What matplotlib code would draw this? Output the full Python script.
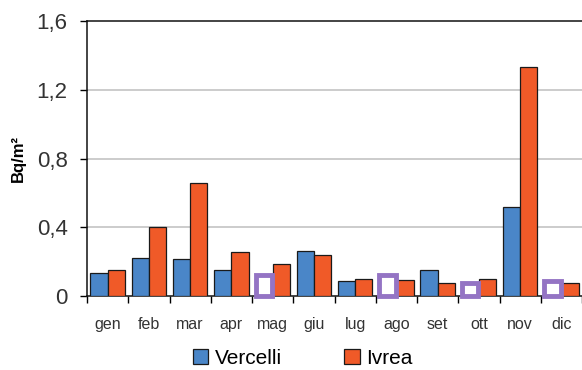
import numpy as np
import matplotlib.pyplot as plt
from matplotlib.ticker import FixedLocator

plt.rcParams['font.family'] = ['Liberation Sans', 'DejaVu Sans']

# monthly deposition values, Bq/m2
months = ['gen', 'feb', 'mar', 'apr', 'mag', 'giu', 'lug', 'ago', 'set', 'ott', 'nov', 'dic']
vercelli = [0.134, 0.22, 0.215, 0.15, np.nan, 0.26, 0.085, np.nan, 0.15, np.nan, 0.52, np.nan]
ivrea = [0.15, 0.40, 0.66, 0.255, 0.185, 0.24, 0.097, 0.093, 0.075, 0.097, 1.334, 0.075]
# Vercelli months below detection limit (hollow markers)
vercelli_dl = [np.nan, np.nan, np.nan, np.nan, 0.12, np.nan, np.nan, 0.12, np.nan, 0.075, np.nan, 0.085]
yticks = [0, 0.4, 0.8, 1.2, 1.6]
ytick_labels = ['0', '0,4', '0,8', '1,2', '1,6']

fig = plt.figure(figsize=(5.82, 3.70), dpi=100)
ax = fig.add_axes([0.1495, 0.2, 0.8505, 0.743])

x = np.arange(len(months))
w = 0.42
ax.bar(x - w / 2, vercelli, w, color='#4A86C8', edgecolor='#1a1a1a', linewidth=0.9, zorder=3)
ax.bar(x + w / 2, ivrea, w, color='#F05A28', edgecolor='#1a1a1a', linewidth=0.9, zorder=3)
ax.bar(x - w / 2, vercelli_dl, w * 0.95, color='white', edgecolor='#9474C4', linewidth=3.5, zorder=3,
       clip_on=False)

ax.set_xlim(-0.5, len(months) - 0.5)
ax.set_ylim(0, 1.6)
ax.set_yticks(yticks)
ax.set_yticklabels(ytick_labels, fontsize=16, color='#333333')
ax.tick_params(axis='y', length=5, width=1, pad=9)
ax.set_xticks(x)
ax.set_xticklabels(months, fontsize=11.5, color='#333333')
ax.tick_params(axis='x', which='major', length=0, pad=15)
ax.xaxis.set_minor_locator(FixedLocator(np.arange(-0.5, len(months), 1)))
ax.tick_params(axis='x', which='minor', length=5, width=1, direction='out')

for v in yticks[1:-1]:
    ax.axhline(v, color='#c4c4c4', linewidth=1.2, zorder=1)

ax.spines['right'].set_visible(False)
for s in ['left', 'bottom', 'top']:
    ax.spines[s].set_color('#111111')
    ax.spines[s].set_linewidth(1.1)

ax.set_ylabel('Bq/m²', fontsize=12, fontweight='bold', labelpad=8)

handles = [plt.Rectangle((0, 0), 1, 1, facecolor='#4A86C8', edgecolor='#1a1a1a', linewidth=0.9),
           plt.Rectangle((0, 0), 1, 1, facecolor='#F05A28', edgecolor='#1a1a1a', linewidth=0.9)]
fig.legend(handles, ['Vercelli', 'Ivrea'], loc='center', bbox_to_anchor=(0.52, 0.032), ncol=2,
           frameon=False, fontsize=15, handlelength=0.75, handleheight=0.75, handletextpad=0.3,
           columnspacing=3.0)

fig.savefig('out.png', dpi=100)
